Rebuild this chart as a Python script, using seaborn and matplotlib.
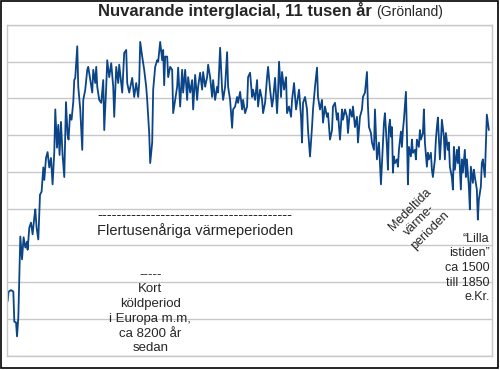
import matplotlib
matplotlib.use("Agg")
import matplotlib.pyplot as plt
import matplotlib.patches as patches
import numpy as np
import pandas as pd
import seaborn as sns

# GISP2-like temperature curve (years before present, deg C)
age_bp = [
    11585, 11561, 11503, 11448, 11424, 11383, 11359, 11328, 11280, 11239,
    11201, 11160, 11119, 11105, 11064, 11023, 10985, 10944, 10920, 10889,
    10848, 10807, 10769, 10728, 10704, 10663, 10625, 10584, 10543, 10505,
    10464, 10440, 10399, 10368, 10337, 10303, 10265, 10224, 10183, 10145,
    10121, 10087, 10049, 10008, 9984, 9960, 9912, 9888, 9840, 9792,
    9768, 9720, 9672, 9648, 9600, 9552, 9528, 9480, 9456, 9432,
    9384, 9336, 9288, 9264, 9216, 9192, 9144, 9096, 9048, 9024,
    8976, 8928, 8904, 8856, 8832, 8784, 8736, 8712, 8664, 8616,
    8592, 8544, 8496, 8448, 8424, 8400, 8352, 8304, 8256, 8232,
    8184, 8160, 8112, 8088, 8040, 7992, 7968, 7920, 7872, 7848,
    7824, 7800, 7752, 7728, 7680, 7632, 7608, 7560, 7512, 7488,
    7440, 7392, 7368, 7320, 7272, 7248, 7200, 7152, 7128, 7080,
    7032, 7008, 6960, 6912, 6888, 6840, 6792, 6768, 6720, 6672,
    6648, 6600, 6552, 6528, 6480, 6432, 6408, 6360, 6312, 6288,
    6240, 6216, 6192, 6168, 6120, 6072, 6048, 6000, 5952, 5928,
    5880, 5832, 5808, 5760, 5712, 5688, 5640, 5592, 5568, 5520,
    5472, 5448, 5400, 5352, 5328, 5280, 5232, 5208, 5160, 5112,
    5088, 5064, 5016, 4992, 4944, 4896, 4872, 4824, 4776, 4752,
    4704, 4656, 4632, 4584, 4536, 4512, 4488, 4440, 4392, 4368,
    4320, 4272, 4248, 4200, 4152, 4128, 4080, 4032, 4008, 3960,
    3912, 3888, 3840, 3792, 3768, 3720, 3672, 3648, 3600, 3552,
    3528, 3480, 3432, 3408, 3360, 3312, 3288, 3240, 3192, 3168,
    3120, 3072, 3048, 3000, 2952, 2928, 2904, 2856, 2832, 2784,
    2760, 2712, 2664, 2640, 2616, 2568, 2544, 2520, 2472, 2448,
    2424, 2400, 2376, 2352, 2328, 2304, 2280, 2232, 2208, 2184,
    2136, 2112, 2088, 2064, 2016, 1992, 1968, 1944, 1896, 1872,
    1848, 1800, 1776, 1752, 1704, 1680, 1656, 1608, 1584, 1560,
    1512, 1488, 1464, 1416, 1392, 1368, 1320, 1296, 1272, 1248,
    1200, 1176, 1152, 1104, 1080, 1056, 1008, 984, 960, 912,
    888, 864, 840, 792, 768, 744, 696, 672, 648, 600,
    576, 552, 504, 480, 456, 408, 384, 360, 312, 288,
    264, 216, 192, 168, 120, 96, 72, 24,
]

temp_c = [
    -32.76, -32.63, -32.61, -32.63, -33.04, -33.05, -33.24, -32.98, -31.88, -32.19,
    -31.89, -32.03, -31.95, -32.06, -31.76, -31.69, -31.85, -31.62, -31.51, -31.76,
    -31.92, -31.31, -31.27, -30.94, -31.11, -30.81, -30.73, -30.94, -30.81, -31.17,
    -30.73, -30.15, -30.67, -30.36, -30.77, -30.32, -30.77, -31.07, -30.05, -30.49,
    -30.56, -30.22, -30.29, -30.05, -29.75, -29.72, -29.29, -29.84, -30.15, -30.70,
    -30.02, -29.88, -29.61, -29.57, -29.75, -29.92, -29.61, -29.79, -29.57, -29.84,
    -30.02, -30.06, -29.75, -30.43, -29.84, -29.48, -29.71, -29.52, -29.84, -30.25,
    -29.57, -29.79, -29.54, -29.79, -29.92, -29.38, -29.34, -29.79, -29.92, -29.79,
    -29.72, -29.98, -29.79, -29.98, -29.79, -29.23, -29.43, -29.61, -29.84, -30.02,
    -30.47, -30.88, -30.60, -29.88, -29.57, -29.48, -29.50, -29.23, -29.48, -29.34,
    -29.82, -29.43, -29.43, -29.71, -29.57, -29.61, -30.20, -30.02, -29.84, -29.58,
    -30.11, -29.61, -29.92, -29.61, -30.02, -29.71, -29.92, -29.75, -30.15, -29.68,
    -30.02, -29.84, -29.65, -29.88, -29.64, -29.84, -29.71, -29.54, -29.71, -29.98,
    -29.75, -30.02, -29.84, -29.92, -29.31, -29.88, -30.02, -29.84, -29.37, -29.84,
    -30.02, -30.20, -30.40, -30.15, -30.11, -29.98, -30.06, -29.91, -30.15, -30.02,
    -30.20, -30.11, -29.71, -29.65, -29.98, -29.88, -30.02, -29.75, -30.11, -29.88,
    -30.02, -30.20, -30.06, -29.71, -29.57, -29.88, -30.11, -30.02, -29.72, -30.20,
    -29.92, -29.50, -29.98, -29.64, -29.88, -29.71, -30.20, -30.11, -30.25, -30.02,
    -29.79, -30.15, -30.06, -29.88, -30.25, -30.60, -30.06, -29.98, -30.15, -30.43,
    -30.79, -30.39, -30.15, -29.84, -29.58, -29.98, -30.15, -30.02, -30.33, -30.11,
    -30.25, -30.20, -30.56, -30.43, -30.11, -30.06, -30.29, -30.20, -30.56, -30.15,
    -30.29, -30.15, -30.25, -30.47, -30.15, -30.25, -30.11, -30.39, -30.25, -30.60,
    -30.25, -30.15, -29.98, -29.92, -29.64, -30.11, -30.39, -30.47, -30.60, -30.70,
    -30.15, -30.83, -30.60, -30.88, -31.17, -30.60, -30.33, -30.20, -30.66, -30.97,
    -30.39, -30.29, -30.52, -30.39, -31.01, -30.79, -30.88, -30.83, -30.93, -30.70,
    -30.45, -30.66, -30.43, -30.29, -29.91, -30.47, -31.17, -30.66, -30.79, -30.56,
    -30.74, -30.70, -30.83, -30.56, -30.66, -30.43, -30.56, -30.47, -30.15, -30.60,
    -30.93, -30.74, -30.83, -30.74, -30.97, -31.07, -30.83, -30.56, -30.39, -30.26,
    -30.83, -30.60, -30.29, -30.52, -30.83, -30.47, -30.70, -30.60, -30.93, -31.07,
    -31.24, -30.66, -30.97, -30.70, -30.88, -30.66, -31.24, -30.83, -31.01, -30.70,
    -31.07, -30.83, -31.20, -31.51, -30.93, -31.15, -30.97, -31.07, -31.24, -31.65,
    -31.38, -31.20, -30.88, -30.83, -31.07, -30.66, -30.22, -30.43,
]

title_main = "Nuvarande interglacial, 11 tusen år"
title_sub = "(Grönland)"
holocene_label = "Flertusenåriga värmeperioden"
event_8200_label = "-----\nKort\nköldperiod\ni Europa m.m,\nca 8200 år\nsedan"
medieval_label = "Medeltida\nvärme-\nperioden"
little_ice_age_label = "\u201cLilla\nistiden\u201d\nca 1500\ntill 1850\ne.Kr."

x_ticks = list(range(1000, 12000, 1000))
y_ticks = list(np.arange(-33.5, -28.99, 0.5))

df = pd.DataFrame({"age": age_bp, "temp": temp_c})

sns.set_style("white")
plt.rcParams["font.family"] = ["Liberation Sans", "DejaVu Sans"]

fig = plt.figure(figsize=(5, 3.7), dpi=100)
ax = fig.add_axes([7 / 500, 14.5 / 370, 484.5 / 500, 330.5 / 370])

sns.lineplot(data=df, x="age", y="temp", ax=ax, color="#0b4487",
             linewidth=1.3, estimator=None, sort=False)

ax.set_xlim(11600, -40)
ax.set_ylim(-33.5, -29.0)
ax.set_xticks(x_ticks)
ax.set_yticks(y_ticks)
ax.set_xticklabels([])
ax.set_yticklabels([])
ax.set_xlabel("")
ax.set_ylabel("")
ax.grid(axis="y", color="#c8c8c8", linewidth=1.0)
ax.grid(axis="x", visible=False)
ax.tick_params(axis="x", direction="out", length=7.5, width=1.0, color="#c8c8c8")
ax.tick_params(axis="y", direction="out", length=3.6, width=1.0, color="#c8c8c8")
for s in ax.spines.values():
    s.set_color("#c8c8c8")
    s.set_linewidth(1.0)

# title in two weights
fig.text(372 / 500, 354 / 370, title_main, ha="right", va="baseline",
         fontsize=12, fontweight="bold")
fig.text(376 / 500, 354 / 370, title_sub, ha="left", va="baseline", fontsize=10)

# annotations
ax.text(0.388, 0.425, "-" * 40, transform=ax.transAxes, ha="center",
        va="center", fontsize=10.5)
ax.text(0.388, 0.377, holocene_label, transform=ax.transAxes, ha="center",
        va="center", fontsize=10.5)
ax.text(0.296, 0.133, event_8200_label, transform=ax.transAxes, ha="center",
        va="center", fontsize=9.5, linespacing=1.3)
ax.text(0.852, 0.41, medieval_label, transform=ax.transAxes, ha="center",
        va="center", fontsize=9, rotation=45, linespacing=1.25)
ax.text(0.996, 0.265, little_ice_age_label, transform=ax.transAxes, ha="right",
        va="center", fontsize=9, linespacing=1.3)

# black frame around the whole picture
fig.patches.append(patches.Rectangle((0.5 / 500, 2.5 / 370), 497.5 / 500, 367 / 370,
                                     transform=fig.transFigure, fill=False,
                                     edgecolor="black", linewidth=1.2))

fig.savefig("out.png", dpi=100)
